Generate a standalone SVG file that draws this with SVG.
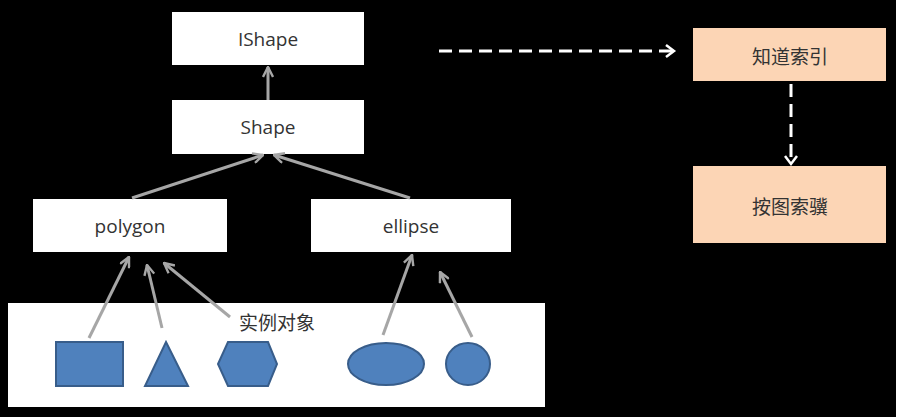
<svg xmlns="http://www.w3.org/2000/svg" width="902" height="417" viewBox="0 0 902 417">
<defs>
<style>
.box{fill:#ffffff;}
.obox{fill:#fcd5b5;}
.lbl{font-family:"Open Sans","Noto Sans CJK SC",sans-serif;font-size:19px;fill:#333333;text-anchor:middle;dominant-baseline:central;}
.cjk{font-family:"Noto Sans CJK SC",sans-serif;font-size:19px;fill:#333333;text-anchor:middle;dominant-baseline:central;}
.shp{fill:#4f81bd;stroke:#385d8a;stroke-width:2;}
.gar{stroke:#a6a6a6;stroke-width:3;fill:none;marker-end:url(#gh);}
.dar{stroke:#ffffff;stroke-width:3;fill:none;stroke-dasharray:13 7;}
</style>
<marker id="gh" viewBox="0 0 12 12" refX="11" refY="6" markerWidth="12" markerHeight="12" markerUnits="userSpaceOnUse" orient="auto">
<path d="M1,1 L11,6 L1,11" fill="none" stroke="#a6a6a6" stroke-width="2.4"/>
</marker>
</defs>
<rect x="0" y="0" width="902" height="417" fill="#ffffff"/>
<rect x="0" y="0" width="896" height="417" fill="#000000"/>

<g id="instances">
<rect x="8" y="303" width="537" height="104" class="box"/>
<text x="277" y="321" class="cjk">实例对象</text>
<rect x="56" y="342" width="67" height="44" class="shp"/>
<polygon points="166,342 188,386 145,386" class="shp"/>
<polygon points="228,342 268,342 277,364 268,386 228,386 218,364" class="shp"/>
<ellipse cx="386" cy="364" rx="38" ry="21" class="shp"/>
<ellipse cx="468" cy="364" rx="22" ry="21" class="shp"/>
</g>

<g id="IShape"><rect x="172" y="12" width="192" height="53" class="box"/><text x="268" y="39" class="lbl">IShape</text></g>
<g id="Shape"><rect x="172" y="100" width="192" height="54" class="box"/><text x="268" y="127" class="lbl">Shape</text></g>
<g id="polygon"><rect x="33" y="199" width="194" height="53" class="box"/><text x="130" y="226" class="lbl">polygon</text></g>
<g id="ellipse"><rect x="311" y="199" width="200" height="53" class="box"/><text x="411" y="226" class="lbl">ellipse</text></g>
<g id="zhidao"><rect x="693" y="28" width="193" height="53" class="obox"/><text x="790" y="55" class="cjk">知道索引</text></g>
<g id="antu"><rect x="693" y="166" width="193" height="77" class="obox"/><text x="790" y="205" class="cjk">按图索骥</text></g>

<g id="connectors">
<line x1="268" y1="100" x2="268" y2="67" class="gar"/>
<line x1="132" y1="198" x2="263" y2="155" class="gar"/>
<line x1="410" y1="198" x2="274" y2="155" class="gar"/>
<line x1="89" y1="338" x2="129" y2="257" class="gar"/>
<line x1="162" y1="328" x2="147" y2="265" class="gar"/>
<line x1="230" y1="317" x2="164" y2="263" class="gar"/>
<line x1="383" y1="335" x2="412" y2="255" class="gar"/>
<line x1="472" y1="337" x2="440" y2="272" class="gar"/>
<line x1="439" y1="51" x2="673" y2="51" class="dar"/>
<path d="M666,45 L674,51 L666,57" fill="none" stroke="#ffffff" stroke-width="2.5"/>
<line x1="791" y1="84" x2="791" y2="163" class="dar"/>
<path d="M785,156 L791,164 L797,156" fill="none" stroke="#ffffff" stroke-width="2.5"/>
</g>
</svg>
